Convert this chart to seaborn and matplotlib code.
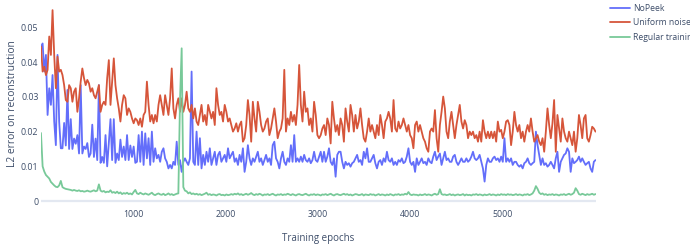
import numpy as np
import pandas as pd
import matplotlib
matplotlib.use("Agg")
import matplotlib.pyplot as plt
import seaborn as sns

series_names = ["NoPeek", "Uniform noise", "Regular training"]
x_ticks = [1000, 2000, 3000, 4000, 5000]
y_ticks = [0, 0.01, 0.02, 0.03, 0.04, 0.05]

nopeek = [
    0.0445, 0.0454, 0.0373, 0.0421, 0.0248, 0.0325, 0.0277, 0.0363, 0.0229, 0.0161,
    0.0421, 0.0229, 0.0152, 0.0152, 0.0225, 0.0160, 0.0320, 0.0150, 0.0236, 0.0150,
    0.0180, 0.0165, 0.0190, 0.0137, 0.0334, 0.0137, 0.0157, 0.0150, 0.0167, 0.0127,
    0.0137, 0.0220, 0.0127, 0.0180, 0.0118, 0.0334, 0.0110, 0.0127, 0.0110, 0.0190,
    0.0100, 0.0167, 0.0236, 0.0118, 0.0236, 0.0110, 0.0137, 0.0118, 0.0177, 0.0127,
    0.0157, 0.0118, 0.0190, 0.0118, 0.0160, 0.0127, 0.0157, 0.0110,
    0.0113, 0.0190, 0.0113, 0.0200, 0.0104, 0.0195, 0.0123, 0.0181, 0.0104, 0.0200,
    0.0113, 0.0152, 0.0123, 0.0133, 0.0113, 0.0142, 0.0152, 0.0123, 0.0113, 0.0094,
    0.0104, 0.0094, 0.0113, 0.0104, 0.0171, 0.0104, 0.0118, 0.0084, 0.0113, 0.0123,
    0.0113, 0.0104, 0.0123, 0.0373, 0.0113, 0.0104, 0.0200, 0.0104, 0.0181, 0.0094,
    0.0133, 0.0104, 0.0142, 0.0113, 0.0152, 0.0104, 0.0123, 0.0142, 0.0104, 0.0133,
    0.0142, 0.0113, 0.0123, 0.0133, 0.0113, 0.0152, 0.0123,
    0.0133, 0.0142, 0.0113, 0.0123, 0.0104, 0.0133, 0.0113, 0.0152, 0.0084, 0.0113,
    0.0161, 0.0123, 0.0104, 0.0123, 0.0113, 0.0128, 0.0142, 0.0113, 0.0123, 0.0104,
    0.0118, 0.0133, 0.0113, 0.0123, 0.0104, 0.0161, 0.0171, 0.0123, 0.0113, 0.0094,
    0.0123, 0.0142, 0.0113, 0.0104, 0.0123, 0.0113, 0.0161, 0.0113, 0.0190, 0.0113,
    0.0123, 0.0113, 0.0128, 0.0113, 0.0133, 0.0118, 0.0113, 0.0123, 0.0109, 0.0118,
    0.0142, 0.0118, 0.0113, 0.0128, 0.0142, 0.0113,
    0.0142, 0.0113, 0.0128, 0.0152, 0.0113, 0.0104, 0.0123, 0.0070, 0.0133, 0.0142,
    0.0142, 0.0113, 0.0094, 0.0113, 0.0104, 0.0109, 0.0099, 0.0109, 0.0113, 0.0123,
    0.0133, 0.0113, 0.0118, 0.0104, 0.0142, 0.0123, 0.0152, 0.0113, 0.0113, 0.0123,
    0.0133, 0.0109, 0.0094, 0.0113, 0.0118, 0.0104, 0.0123, 0.0113, 0.0142, 0.0118,
    0.0113, 0.0123, 0.0104, 0.0113, 0.0104, 0.0118, 0.0113, 0.0123, 0.0109, 0.0113,
    0.0128, 0.0152, 0.0113, 0.0104, 0.0113, 0.0084,
    0.0123, 0.0104, 0.0113, 0.0123, 0.0109, 0.0113, 0.0104, 0.0123, 0.0113, 0.0109,
    0.0128, 0.0142, 0.0118, 0.0128, 0.0137, 0.0104, 0.0123, 0.0142, 0.0118, 0.0123,
    0.0113, 0.0113, 0.0128, 0.0133, 0.0113, 0.0104, 0.0113, 0.0123, 0.0113, 0.0113,
    0.0123, 0.0113, 0.0118, 0.0128, 0.0142, 0.0123, 0.0118, 0.0123, 0.0133, 0.0113,
    0.0094, 0.0056, 0.0104, 0.0123, 0.0113, 0.0113, 0.0123, 0.0128, 0.0118, 0.0123,
    0.0113, 0.0128, 0.0113, 0.0181, 0.0113, 0.0123, 0.0113,
    0.0123, 0.0104, 0.0113, 0.0113, 0.0104, 0.0099, 0.0104, 0.0094, 0.0109, 0.0113,
    0.0123, 0.0109, 0.0104, 0.0109, 0.0113, 0.0200, 0.0161, 0.0133, 0.0104, 0.0123,
    0.0104, 0.0109, 0.0099, 0.0104, 0.0113, 0.0104, 0.0094, 0.0123, 0.0142, 0.0084,
    0.0113, 0.0123, 0.0133, 0.0137, 0.0152, 0.0142, 0.0084, 0.0123, 0.0109, 0.0113,
    0.0118, 0.0128, 0.0113, 0.0123, 0.0113, 0.0104, 0.0109, 0.0113, 0.0094, 0.0084,
    0.0113, 0.0118,
]

uniform_noise = [
    0.0445, 0.0373, 0.0387, 0.0363, 0.0378, 0.0474, 0.0421, 0.0550, 0.0421, 0.0325,
    0.0416, 0.0373, 0.0378, 0.0363, 0.0334, 0.0291, 0.0286, 0.0334, 0.0325, 0.0286,
    0.0315, 0.0325, 0.0257, 0.0296, 0.0344, 0.0382, 0.0354, 0.0334, 0.0349, 0.0339,
    0.0315, 0.0325, 0.0305, 0.0296, 0.0315, 0.0334, 0.0257, 0.0277, 0.0286, 0.0277,
    0.0354, 0.0406, 0.0277, 0.0344, 0.0411, 0.0334, 0.0296, 0.0267, 0.0229, 0.0277,
    0.0305, 0.0296, 0.0248, 0.0267, 0.0257, 0.0238, 0.0224, 0.0238,
    0.0233, 0.0219, 0.0238, 0.0214, 0.0248, 0.0257, 0.0344, 0.0277, 0.0229, 0.0248,
    0.0224, 0.0248, 0.0229, 0.0277, 0.0305, 0.0277, 0.0248, 0.0305, 0.0277, 0.0248,
    0.0296, 0.0382, 0.0267, 0.0238, 0.0277, 0.0296, 0.0257, 0.0296, 0.0257, 0.0277,
    0.0315, 0.0267, 0.0257, 0.0277, 0.0238, 0.0267, 0.0229, 0.0219, 0.0248, 0.0277,
    0.0229, 0.0248, 0.0219, 0.0277, 0.0257, 0.0238, 0.0257, 0.0219, 0.0325, 0.0277,
    0.0248, 0.0257, 0.0229, 0.0277, 0.0257, 0.0229, 0.0238,
    0.0219, 0.0200, 0.0209, 0.0224, 0.0200, 0.0219, 0.0229, 0.0171, 0.0181, 0.0219,
    0.0291, 0.0248, 0.0171, 0.0286, 0.0238, 0.0200, 0.0286, 0.0257, 0.0219, 0.0200,
    0.0209, 0.0229, 0.0238, 0.0190, 0.0209, 0.0238, 0.0267, 0.0229, 0.0181, 0.0200,
    0.0209, 0.0238, 0.0378, 0.0200, 0.0238, 0.0219, 0.0257, 0.0229, 0.0248, 0.0219,
    0.0277, 0.0392, 0.0277, 0.0229, 0.0315, 0.0257, 0.0267, 0.0219, 0.0238, 0.0200,
    0.0286, 0.0248, 0.0190, 0.0181, 0.0190, 0.0209,
    0.0219, 0.0190, 0.0238, 0.0219, 0.0166, 0.0286, 0.0238, 0.0200, 0.0219, 0.0190,
    0.0238, 0.0219, 0.0171, 0.0267, 0.0229, 0.0200, 0.0277, 0.0248, 0.0200, 0.0248,
    0.0209, 0.0229, 0.0267, 0.0219, 0.0181, 0.0171, 0.0200, 0.0238, 0.0200, 0.0219,
    0.0200, 0.0181, 0.0219, 0.0190, 0.0248, 0.0219, 0.0181, 0.0229, 0.0238, 0.0257,
    0.0238, 0.0200, 0.0291, 0.0209, 0.0200, 0.0229, 0.0209, 0.0219, 0.0238, 0.0219,
    0.0200, 0.0219, 0.0190, 0.0181, 0.0152, 0.0219,
    0.0229, 0.0200, 0.0219, 0.0200, 0.0181, 0.0171, 0.0152, 0.0142, 0.0200, 0.0209,
    0.0200, 0.0262, 0.0181, 0.0142, 0.0219, 0.0257, 0.0301, 0.0267, 0.0200, 0.0181,
    0.0229, 0.0257, 0.0219, 0.0181, 0.0219, 0.0248, 0.0277, 0.0229, 0.0209, 0.0233,
    0.0219, 0.0181, 0.0200, 0.0190, 0.0200, 0.0181, 0.0190, 0.0171, 0.0200, 0.0171,
    0.0233, 0.0200, 0.0181, 0.0200, 0.0181, 0.0200, 0.0181, 0.0200, 0.0171, 0.0229,
    0.0200, 0.0205, 0.0181, 0.0200, 0.0229, 0.0233, 0.0219,
    0.0161, 0.0200, 0.0257, 0.0219, 0.0200, 0.0219, 0.0181, 0.0200, 0.0171, 0.0200,
    0.0219, 0.0200, 0.0238, 0.0200, 0.0171, 0.0181, 0.0190, 0.0171, 0.0161, 0.0181,
    0.0142, 0.0200, 0.0267, 0.0219, 0.0181, 0.0224, 0.0291, 0.0142, 0.0248, 0.0209,
    0.0171, 0.0238, 0.0200, 0.0181, 0.0171, 0.0200, 0.0181, 0.0161, 0.0200, 0.0142,
    0.0181, 0.0248, 0.0219, 0.0181, 0.0238, 0.0248, 0.0181, 0.0171, 0.0190, 0.0214,
    0.0209, 0.0200,
]

regular_training = [
    0.0196, 0.0100, 0.0085, 0.0075, 0.0070, 0.0065, 0.0055, 0.0050, 0.0045, 0.0041,
    0.0040, 0.0045, 0.0058, 0.0040, 0.0037, 0.0035, 0.0034, 0.0033, 0.0032, 0.0030,
    0.0032, 0.0030, 0.0029, 0.0031, 0.0028, 0.0029, 0.0027, 0.0028, 0.0030, 0.0028,
    0.0027, 0.0029, 0.0031, 0.0028, 0.0030, 0.0048, 0.0030, 0.0027, 0.0029, 0.0025,
    0.0027, 0.0026, 0.0031, 0.0024, 0.0026, 0.0023, 0.0027, 0.0022, 0.0025, 0.0020,
    0.0023, 0.0021, 0.0024, 0.0020, 0.0022, 0.0019, 0.0026, 0.0032,
    0.0022, 0.0020, 0.0024, 0.0021, 0.0019, 0.0022, 0.0020, 0.0018, 0.0021, 0.0024,
    0.0019, 0.0017, 0.0020, 0.0022, 0.0019, 0.0018, 0.0021, 0.0017, 0.0019, 0.0022,
    0.0018, 0.0020, 0.0017, 0.0019, 0.0021, 0.0022, 0.0290, 0.0440, 0.0040, 0.0030,
    0.0028, 0.0022, 0.0025, 0.0020, 0.0022, 0.0019, 0.0021, 0.0018, 0.0020, 0.0017,
    0.0019, 0.0021, 0.0024, 0.0018, 0.0020, 0.0017, 0.0019, 0.0018, 0.0016, 0.0019,
    0.0020, 0.0017, 0.0018, 0.0016, 0.0019, 0.0017, 0.0018,
    0.0020, 0.0018, 0.0021, 0.0019, 0.0022, 0.0018, 0.0020, 0.0017, 0.0019, 0.0021,
    0.0018, 0.0020, 0.0023, 0.0019, 0.0017, 0.0020, 0.0018, 0.0021, 0.0019, 0.0016,
    0.0019, 0.0018, 0.0020, 0.0017, 0.0019, 0.0021, 0.0018, 0.0016, 0.0019, 0.0018,
    0.0020, 0.0017, 0.0019, 0.0018, 0.0021, 0.0019, 0.0017, 0.0020, 0.0018, 0.0016,
    0.0019, 0.0020, 0.0018, 0.0017, 0.0019, 0.0021, 0.0018, 0.0016, 0.0019, 0.0018,
    0.0020, 0.0017, 0.0019, 0.0018, 0.0016, 0.0019,
    0.0018, 0.0020, 0.0017, 0.0019, 0.0021, 0.0018, 0.0016, 0.0019, 0.0020, 0.0018,
    0.0017, 0.0019, 0.0021, 0.0018, 0.0020, 0.0017, 0.0019, 0.0016, 0.0018, 0.0020,
    0.0019, 0.0017, 0.0018, 0.0020, 0.0016, 0.0019, 0.0018, 0.0017, 0.0020, 0.0018,
    0.0019, 0.0016, 0.0018, 0.0020, 0.0017, 0.0019, 0.0018, 0.0016, 0.0019, 0.0017,
    0.0020, 0.0018, 0.0016, 0.0019, 0.0018, 0.0020, 0.0017, 0.0019, 0.0018, 0.0021,
    0.0019, 0.0026, 0.0019, 0.0017, 0.0019, 0.0018,
    0.0018, 0.0016, 0.0019, 0.0017, 0.0018, 0.0020, 0.0017, 0.0019, 0.0018, 0.0016,
    0.0019, 0.0021, 0.0018, 0.0020, 0.0034, 0.0020, 0.0018, 0.0019, 0.0017, 0.0018,
    0.0020, 0.0017, 0.0019, 0.0016, 0.0018, 0.0019, 0.0017, 0.0018, 0.0020, 0.0016,
    0.0019, 0.0017, 0.0018, 0.0016, 0.0019, 0.0018, 0.0020, 0.0017, 0.0019, 0.0018,
    0.0016, 0.0019, 0.0017, 0.0018, 0.0020, 0.0017, 0.0019, 0.0018, 0.0016, 0.0019,
    0.0017, 0.0020, 0.0018, 0.0019, 0.0017, 0.0020, 0.0018,
    0.0019, 0.0017, 0.0018, 0.0020, 0.0017, 0.0019, 0.0018, 0.0016, 0.0019, 0.0018,
    0.0020, 0.0017, 0.0019, 0.0022, 0.0030, 0.0043, 0.0035, 0.0024, 0.0020, 0.0022,
    0.0018, 0.0020, 0.0017, 0.0019, 0.0018, 0.0020, 0.0017, 0.0019, 0.0018, 0.0016,
    0.0019, 0.0018, 0.0020, 0.0017, 0.0019, 0.0021, 0.0018, 0.0020, 0.0024, 0.0037,
    0.0030, 0.0020, 0.0018, 0.0021, 0.0019, 0.0017, 0.0020, 0.0018, 0.0019, 0.0021,
    0.0018, 0.0020,
]

values_by_series = [nopeek, uniform_noise, regular_training]
colors = ["#636efa", "#d6553a", "#78c999"]
text_color = "#3d4d69"

frames = []
for name, vals in zip(series_names, values_by_series):
    epochs = np.linspace(5, 6000, len(vals))
    frames.append(pd.DataFrame({"epoch": epochs, "value": vals, "series": name}))
df = pd.concat(frames, ignore_index=True)

sns.set_theme(style="white")
plt.rcParams["font.family"] = ["Open Sans", "DejaVu Sans"]

W, H = 690, 246
fig = plt.figure(figsize=(W / 100, H / 100), dpi=100)
ax_l, ax_r, ax_t, ax_b = 40.5, 595.5, 9.1, 205.2
ax = fig.add_axes([ax_l / W, 1 - ax_b / H, (ax_r - ax_l) / W, (ax_b - ax_t) / H])

ax.axhline(0, color="#e3e8f1", lw=1.6, zorder=0)

sns.lineplot(data=df, x="epoch", y="value", hue="series", hue_order=series_names,
             palette=colors, estimator=None, sort=False, lw=1.3, ax=ax)

ax.set_xlim(0, 6000)
ax.set_ylim(-0.0012, 0.0553)
ax.set_xticks(x_ticks)
ax.set_xticklabels([str(t) for t in x_ticks])
ax.set_yticks(y_ticks)
ax.set_yticklabels(["0" if t == 0 else f"{t:.2f}" for t in y_ticks])
ax.tick_params(axis="both", length=0, labelsize=6.3, colors=text_color)
ax.tick_params(axis="y", pad=1.5)
ax.tick_params(axis="x", pad=3.6)
for s in ax.spines.values():
    s.set_visible(False)
ax.grid(False)

ax.set_xlabel("Training epochs", fontsize=7.0, color=text_color)
ax.set_ylabel("L2 error on reconstruction", fontsize=7.4, color=text_color)
ax.xaxis.set_label_coords(0.5, -0.14)
ax.yaxis.set_label_coords(-0.041, 0.52)

leg = ax.legend(loc="upper left", bbox_to_anchor=(608 / W, 1 - 2.5 / H),
                bbox_transform=fig.transFigure, frameon=False, fontsize=6.2,
                handlelength=2.3, handletextpad=0.4, labelspacing=0.6,
                borderpad=0.2, borderaxespad=0)
for t in leg.get_texts():
    t.set_color(text_color)
for l in leg.get_lines():
    l.set_linewidth(1.3)

fig.savefig("out.png", dpi=100)
